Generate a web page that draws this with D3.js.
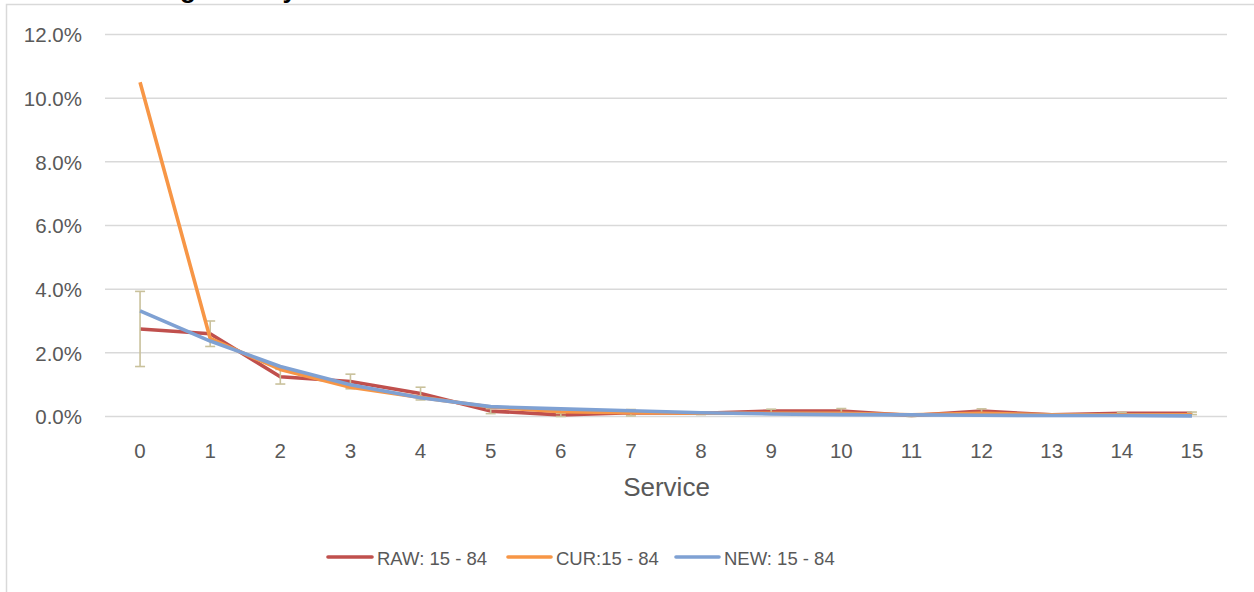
<!DOCTYPE html>
<html>
<head>
<meta charset="utf-8">
<script src="https://cdn.jsdelivr.net/npm/d3@7"></script>
<style>
  html, body { margin: 0; padding: 0; background: #ffffff; overflow: hidden; }
  svg { display: block; }
</style>
</head>
<body>
<svg id="chart" width="1254" height="592"></svg>
<script>
// ---- data ----
const categories = ["0","1","2","3","4","5","6","7","8","9","10","11","12","13","14","15"];
const rawValues = [0.0275, 0.026, 0.0125, 0.011, 0.0072, 0.0017, 0.0005, 0.0012, 0.001, 0.0017, 0.0017, 0.0003, 0.0017, 0.0005, 0.001, 0.001];
const rawErrors = [0.0118, 0.004, 0.0023, 0.0023, 0.002, 0.0008, 0.0005, 0.001, 0.0004, 0.0006, 0.0008, 0.0003, 0.0007, 0.0003, 0.0003, 0.0004];
const curValues = [0.105, 0.0245, 0.0148, 0.0092, 0.006, 0.003, 0.0015, 0.0012, 0.001, 0.001, 0.001, 0.0005, 0.001, 0.0005, 0.0005, 0.0005];
const newValues = [0.0332, 0.0237, 0.0157, 0.01, 0.0059, 0.0031, 0.0024, 0.0018, 0.0012, 0.0008, 0.0006, 0.0005, 0.0004, 0.0003, 0.0003, 0.0002];
const yTicks = [0, 0.02, 0.04, 0.06, 0.08, 0.10, 0.12];
const seriesNames = ["RAW: 15 - 84", "CUR:15 - 84", "NEW: 15 - 84"];
const seriesColors = ["#C0504D", "#F79646", "#7FA1D3"];
const xTitle = "Service";
const chartTitle = "Smoothing Rate by Service";

const series = [
  { name: seriesNames[0], values: rawValues, color: seriesColors[0] },
  { name: seriesNames[1], values: curValues, color: seriesColors[1] },
  { name: seriesNames[2], values: newValues, color: seriesColors[2] }
];

const svg = d3.select("#chart");
const textColor = "#595959";
const axisFont = "'Liberation Sans', Arial, sans-serif";

// chart outer frame (extends beyond the visible window)
svg.append("rect")
  .attr("x", 6.5).attr("y", 4.5)
  .attr("width", 1400).attr("height", 700)
  .attr("fill", "#ffffff")
  .attr("stroke", "#d9d9d9").attr("stroke-width", 1.5);

// title (mostly cut off at the top, as in the reference)
const title = svg.append("text")
  .attr("y", -2)
  .attr("font-family", "'Liberation Sans', Arial, sans-serif")
  .attr("font-weight", "bold")
  .attr("font-size", 26)
  .attr("fill", "#000000")
  .text(chartTitle);
const gIdx = chartTitle.indexOf("g");
const preLen = title.node().getSubStringLength(0, gIdx);
title.attr("x", 180 - preLen);

// scales
const x = d3.scaleBand().domain(categories).range([105, 1227]).paddingInner(0).paddingOuter(0);
const cx = d => x(d) + x.bandwidth() / 2;
const y = d3.scaleLinear().domain([0, 0.12]).range([416.5, 34.5]);

// gridlines
svg.append("g").selectAll("line").data(yTicks).join("line")
  .attr("x1", 105).attr("x2", 1227)
  .attr("y1", d => y(d)).attr("y2", d => y(d))
  .attr("stroke", "#d9d9d9").attr("stroke-width", 1.5);

// y axis labels
const yAxis = d3.axisLeft(y).tickValues(yTicks).tickFormat(d3.format(".1%")).tickSize(0).tickPadding(0);
const yG = svg.append("g").attr("transform", "translate(82,0)").call(yAxis);
yG.select(".domain").remove();
yG.selectAll("text")
  .attr("font-family", axisFont).attr("font-size", 20.5).attr("fill", textColor)
  .attr("dy", "0.36em");

// x axis labels
const xAxis = d3.axisBottom(x).tickSize(0).tickPadding(0);
const xG = svg.append("g").attr("transform", "translate(0,443)").call(xAxis);
xG.select(".domain").remove();
xG.selectAll("text")
  .attr("font-family", axisFont).attr("font-size", 20.5).attr("fill", textColor)
  .attr("dy", "0.72em");

// x axis title
svg.append("text")
  .attr("x", 666.5).attr("y", 496)
  .attr("text-anchor", "middle")
  .attr("font-family", axisFont).attr("font-size", 26).attr("fill", textColor)
  .text(xTitle);

const line = d3.line()
  .x((d, i) => cx(categories[i]))
  .y(d => y(d));

// RAW line
svg.append("path")
  .attr("d", line(rawValues))
  .attr("fill", "none").attr("stroke", series[0].color)
  .attr("stroke-width", 3.6).attr("stroke-linejoin", "round");

// RAW error bars
const errColor = "#C9C19B";
const eb = svg.append("g");
rawValues.forEach((v, i) => {
  const xc = cx(categories[i]);
  const lo = y(Math.max(0, v - rawErrors[i]));
  const hi = y(v + rawErrors[i]);
  eb.append("line").attr("x1", xc).attr("x2", xc).attr("y1", lo).attr("y2", hi)
    .attr("stroke", errColor).attr("stroke-width", 1.6);
  eb.append("line").attr("x1", xc - 5).attr("x2", xc + 5).attr("y1", lo).attr("y2", lo)
    .attr("stroke", errColor).attr("stroke-width", 1.6);
  eb.append("line").attr("x1", xc - 5).attr("x2", xc + 5).attr("y1", hi).attr("y2", hi)
    .attr("stroke", errColor).attr("stroke-width", 1.6);
});

// CUR and NEW lines
[series[1], series[2]].forEach(s => {
  svg.append("path")
    .attr("d", line(s.values))
    .attr("fill", "none").attr("stroke", s.color)
    .attr("stroke-width", 3.6).attr("stroke-linejoin", "round");
});

// legend
const legendItems = [
  { lx1: 328, lx2: 372, tx: 377 },
  { lx1: 508, lx2: 551, tx: 556 },
  { lx1: 676, lx2: 719, tx: 724 }
];
const lg = svg.append("g");
series.forEach((s, i) => {
  const p = legendItems[i];
  lg.append("line").attr("x1", p.lx1).attr("x2", p.lx2).attr("y1", 557).attr("y2", 557)
    .attr("stroke", s.color).attr("stroke-width", 3.6).attr("stroke-linecap", "round");
  lg.append("text").attr("x", p.tx).attr("y", 565)
    .attr("font-family", axisFont)
    .attr("font-size", 18.5).attr("fill", textColor)
    .text(s.name);
});
</script>
</body>
</html>
